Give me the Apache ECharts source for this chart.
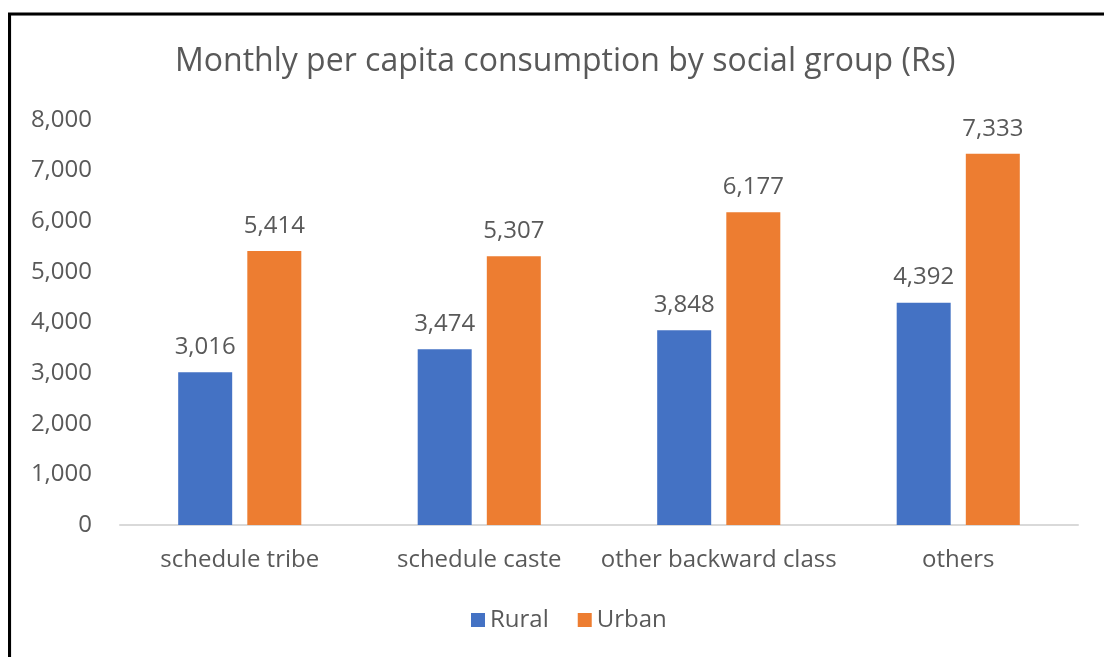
<!DOCTYPE html>
<html>
<head>
<meta charset="utf-8">
<script src="https://cdn.jsdelivr.net/npm/echarts@6/dist/echarts.min.js"></script>
<style>
html,body{margin:0;padding:0;background:#fff;}
#chart{width:1104px;height:657px;}
</style>
</head>
<body>
<div id="chart"></div>
<script>
const titleText = 'Monthly per capita consumption by social group (Rs)';
const categories = ['schedule tribe', 'schedule caste', 'other backward class', 'others'];
const seriesNames = ['Rural', 'Urban'];
const rural = [3016, 3474, 3848, 4392];
const urban = [5414, 5307, 6177, 7333];
const yTicks = [0, 1000, 2000, 3000, 4000, 5000, 6000, 7000, 8000];

const FONT = '"Open Sans", sans-serif';
const TXT = '#595959';
const FS = 24;
const fmt = v => v.toLocaleString('en-US');

const chart = echarts.init(document.getElementById('chart'), null, {renderer: 'canvas'});
const labelCfg = {
  show: true, position: 'top', distance: 13,
  color: TXT, fontFamily: FONT, fontSize: FS,
  formatter: p => fmt(p.value)
};
chart.setOption({
  animation: false,
  backgroundColor: '#fff',
  title: {
    text: titleText, left: 170, top: 41,
    textStyle: {color: TXT, fontFamily: FONT, fontSize: 32, fontWeight: 'normal'}
  },
  legend: {
    data: seriesNames, bottom: 20, left: 466,
    itemWidth: 14, itemHeight: 14, itemGap: 29,
    icon: 'rect',
    textStyle: {color: TXT, fontFamily: FONT, fontSize: FS}
  },
  grid: {left: 120, right: 26, top: 120, bottom: 132, containLabel: false},
  xAxis: {
    type: 'category', data: categories,
    axisLine: {lineStyle: {color: '#d9d9d9', width: 2}},
    axisTick: {show: false},
    axisLabel: {color: TXT, fontFamily: FONT, fontSize: FS, margin: 23, interval: 0}
  },
  yAxis: {
    type: 'value', min: yTicks[0], max: yTicks[yTicks.length - 1], interval: 1000,
    axisLine: {show: false}, axisTick: {show: false},
    splitLine: {show: false},
    axisLabel: {color: TXT, fontFamily: FONT, fontSize: FS, margin: 28, formatter: v => fmt(v)}
  },
  series: [
    {name: seriesNames[0], type: 'bar', data: rural, barWidth: 54, barGap: '28%',
     itemStyle: {color: '#4472C4'}, label: labelCfg},
    {name: seriesNames[1], type: 'bar', data: urban, barWidth: 54, barGap: '28%',
     itemStyle: {color: '#ED7D31'}, label: labelCfg}
  ],
  graphic: [
    {type: 'rect', shape: {x: 11, y: 15, width: 1100, height: 700}, style: {fill: 'none', stroke: '#d9d9d9', lineWidth: 1}, silent: true},
    {type: 'line', shape: {x1: 8, y1: 14, x2: 1104, y2: 14}, style: {stroke: '#000', lineWidth: 3}, silent: true},
    {type: 'line', shape: {x1: 9.5, y1: 13, x2: 9.5, y2: 657}, style: {stroke: '#000', lineWidth: 3}, silent: true}
  ]
});
</script>
</body>
</html>
